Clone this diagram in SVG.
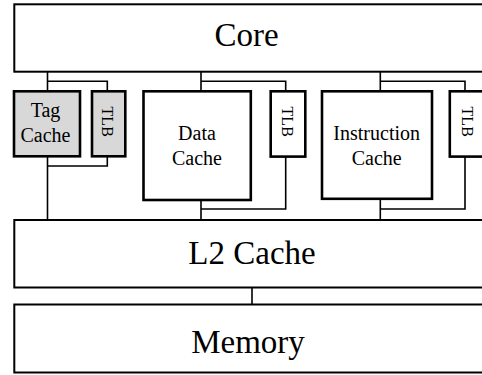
<svg xmlns="http://www.w3.org/2000/svg" width="482" height="375" viewBox="0 0 482 375">
<style>
.big{fill:#fff;stroke:#000;stroke-width:2}
.box{fill:#fff;stroke:#000;stroke-width:2.6}
.gray{fill:#d8d8d8;stroke:#000;stroke-width:2.6}
.conn{fill:none;stroke:#000;stroke-width:1.6}
text{font-family:"Liberation Serif","Times New Roman",serif;fill:#000;text-anchor:middle}
.lg{font-size:33px}
.md{font-size:20px}
.sm{font-size:16px}
</style>
<rect width="482" height="375" fill="#fff"/>
<g id="connectors">
<path class="conn" d="M47.5,72 V91.3 M47.5,81.2 H107.3 V91.3 M47.5,156.5 V220 M47.5,166 H107.3 V156.5"/>
<path class="conn" d="M201,72 V91.3 M201,81.2 H285.7 V91.3 M201,200 V220 M201,209 H285.7 V156.5"/>
<path class="conn" d="M380.3,72 V91.3 M380.3,81.2 H465 V91.3 M380.3,198.8 V220 M380.3,209 H465 V156.5"/>
<path class="conn" d="M252,287.5 V304.5"/>
</g>
<g id="core">
<rect class="big" x="14.3" y="4.3" width="480" height="67.4"/>
<text class="lg" x="246.7" y="45.7">Core</text>
</g>
<g id="tag-cache">
<rect class="gray" x="14" y="91.3" width="66" height="65"/>
<text class="md" x="45.5" y="116.7">Tag</text>
<text class="md" x="45.5" y="141.7">Cache</text>
</g>
<g id="tlb1">
<rect class="gray" x="92" y="91.3" width="33.3" height="65"/>
<text class="sm" transform="translate(101.8,121.7) rotate(90)">TLB</text>
</g>
<g id="data-cache">
<rect class="box" x="143.5" y="91.3" width="107.3" height="108.7"/>
<text class="md" x="197" y="140">Data</text>
<text class="md" x="197" y="165">Cache</text>
</g>
<g id="tlb2">
<rect class="box" x="270.7" y="91.3" width="34.6" height="65.3"/>
<text class="sm" transform="translate(282.3,121.7) rotate(90)">TLB</text>
</g>
<g id="instruction-cache">
<rect class="box" x="322" y="91.3" width="110" height="107.5"/>
<text class="md" x="376.7" y="140">Instruction</text>
<text class="md" x="376.7" y="165">Cache</text>
</g>
<g id="tlb3">
<rect class="box" x="449.8" y="91.3" width="34.6" height="65.3"/>
<text class="sm" transform="translate(462.3,121.7) rotate(90)">TLB</text>
</g>
<g id="l2-cache">
<rect class="big" x="14.3" y="220" width="480" height="67.5"/>
<text class="lg" x="252" y="264.3">L2 Cache</text>
</g>
<g id="memory">
<rect class="big" x="14.3" y="304.5" width="480" height="68"/>
<text class="lg" x="248" y="353.3">Memory</text>
</g>
</svg>
